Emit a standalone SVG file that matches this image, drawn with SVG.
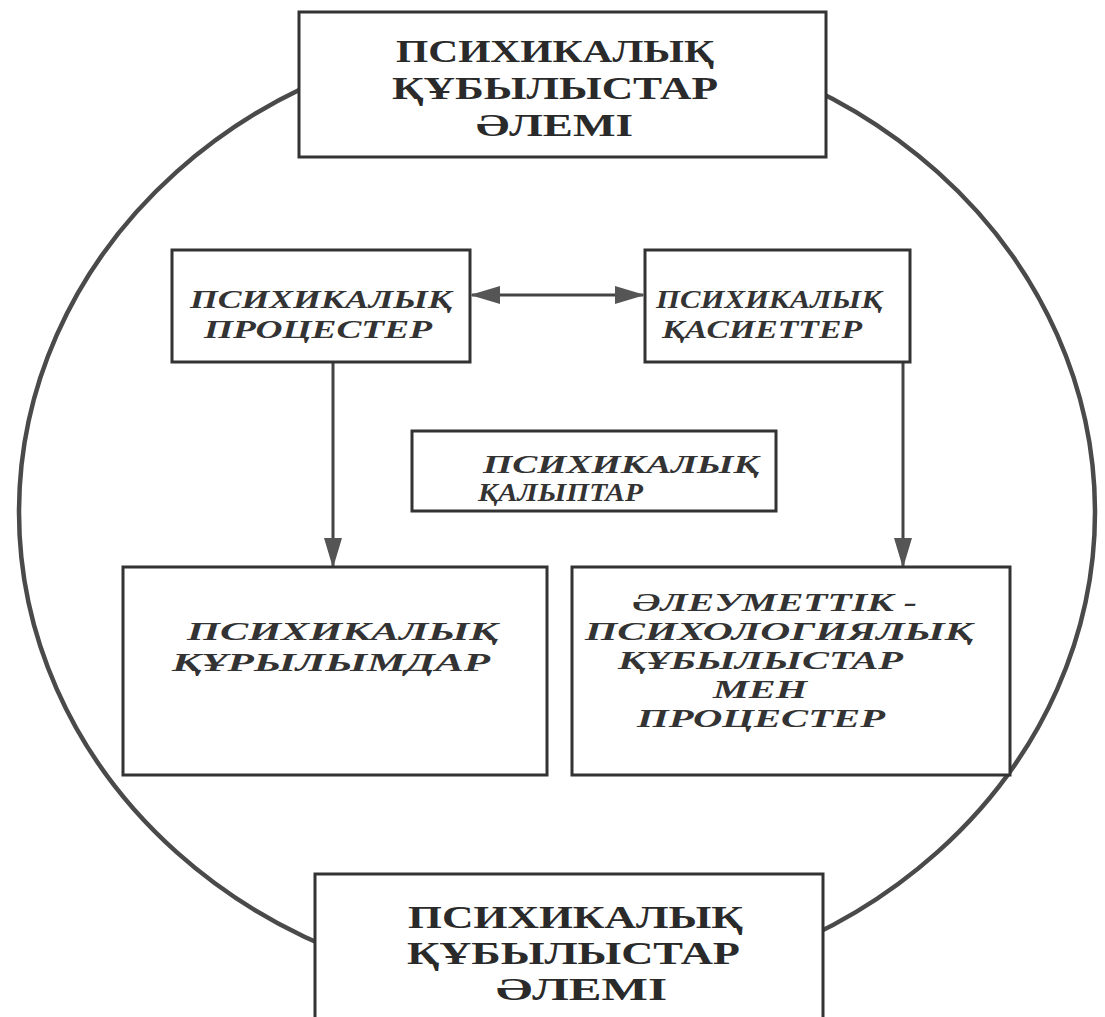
<svg xmlns="http://www.w3.org/2000/svg" width="1105" height="1017" viewBox="0 0 1105 1017">
<style>
.box{fill:#fff;stroke:#333;stroke-width:3}
.ring{fill:none;stroke:#4a4a4a;stroke-width:4.5}
.up{font-family:"Liberation Serif","Times New Roman",serif;font-weight:bold;font-size:32px;fill:#2a2a2a}
.it{font-family:"Liberation Serif","Times New Roman",serif;font-weight:bold;font-style:italic;font-size:25px;fill:#333}
.it2{font-family:"Liberation Serif","Times New Roman",serif;font-weight:bold;font-style:italic;font-size:26px;fill:#333}
.ln{stroke:#444;stroke-width:3;fill:none}
</style>
<defs>
<marker id="ah" markerWidth="30" markerHeight="20" refX="28" refY="10" orient="auto-start-reverse" markerUnits="userSpaceOnUse">
<path d="M0,1 L30,10 L0,19 Z" fill="#555"/>
</marker>
</defs>
<rect width="1105" height="1017" fill="#fff"/>
<ellipse class="ring" cx="557" cy="512" rx="538" ry="481"/>
<g id="connectors">
<line class="ln" x1="472" y1="295" x2="643" y2="295" marker-start="url(#ah)" marker-end="url(#ah)"/>
<line class="ln" x1="333" y1="362" x2="333" y2="566" marker-end="url(#ah)"/>
<line class="ln" x1="903" y1="362" x2="903" y2="566" marker-end="url(#ah)"/>
</g>
<g id="top">
<rect class="box" x="299" y="12" width="527" height="145"/>
<text class="up" x="396" y="62" textLength="318" lengthAdjust="spacingAndGlyphs">ПСИХИКАЛЫҚ</text>
<text class="up" x="392" y="99" textLength="326" lengthAdjust="spacingAndGlyphs">ҚҰБЫЛЫСТАР</text>
<text class="up" x="476" y="136" textLength="157" lengthAdjust="spacingAndGlyphs">ӘЛЕМІ</text>
</g>
<g id="processes">
<rect class="box" x="172" y="250" width="298" height="112"/>
<text class="it" x="190" y="308" textLength="262" lengthAdjust="spacingAndGlyphs">ПСИХИКАЛЫҚ</text>
<text class="it" x="204" y="338" textLength="228" lengthAdjust="spacingAndGlyphs">ПРОЦЕСТЕР</text>
</g>
<g id="properties">
<rect class="box" x="645" y="250" width="265" height="112"/>
<text class="it" x="656" y="308" textLength="226" lengthAdjust="spacingAndGlyphs">ПСИХИКАЛЫҚ</text>
<text class="it" x="662" y="338" textLength="200" lengthAdjust="spacingAndGlyphs">ҚАСИЕТТЕР</text>
</g>
<g id="states">
<rect class="box" x="412" y="431" width="364" height="80"/>
<text class="it" x="483" y="473" textLength="276" lengthAdjust="spacingAndGlyphs">ПСИХИКАЛЫҚ</text>
<text class="it" x="478" y="501" textLength="165" lengthAdjust="spacingAndGlyphs">ҚАЛЫПТАР</text>
</g>
<g id="structures">
<rect class="box" x="123" y="567" width="424" height="208"/>
<text class="it2" x="187" y="640" textLength="311" lengthAdjust="spacingAndGlyphs">ПСИХИКАЛЫҚ</text>
<text class="it2" x="172" y="671" textLength="318" lengthAdjust="spacingAndGlyphs">ҚҰРЫЛЫМДАР</text>
</g>
<g id="social">
<rect class="box" x="572" y="567" width="438" height="208"/>
<text class="it2" x="632" y="611" textLength="285" lengthAdjust="spacingAndGlyphs">ӘЛЕУМЕТТІК -</text>
<text class="it2" x="585" y="640" textLength="388" lengthAdjust="spacingAndGlyphs">ПСИХОЛОГИЯЛЫҚ</text>
<text class="it2" x="618" y="669" textLength="285" lengthAdjust="spacingAndGlyphs">ҚҰБЫЛЫСТАР</text>
<text class="it2" x="713" y="698" textLength="94" lengthAdjust="spacingAndGlyphs">МЕН</text>
<text class="it2" x="637" y="727" textLength="248" lengthAdjust="spacingAndGlyphs">ПРОЦЕСТЕР</text>
</g>
<g id="bottom">
<rect class="box" x="315" y="874" width="508" height="160"/>
<text class="up" x="408" y="928" textLength="335" lengthAdjust="spacingAndGlyphs">ПСИХИКАЛЫҚ</text>
<text class="up" x="407" y="964" textLength="333" lengthAdjust="spacingAndGlyphs">ҚҰБЫЛЫСТАР</text>
<text class="up" x="496" y="1000" textLength="171" lengthAdjust="spacingAndGlyphs">ӘЛЕМІ</text>
</g>
</svg>
